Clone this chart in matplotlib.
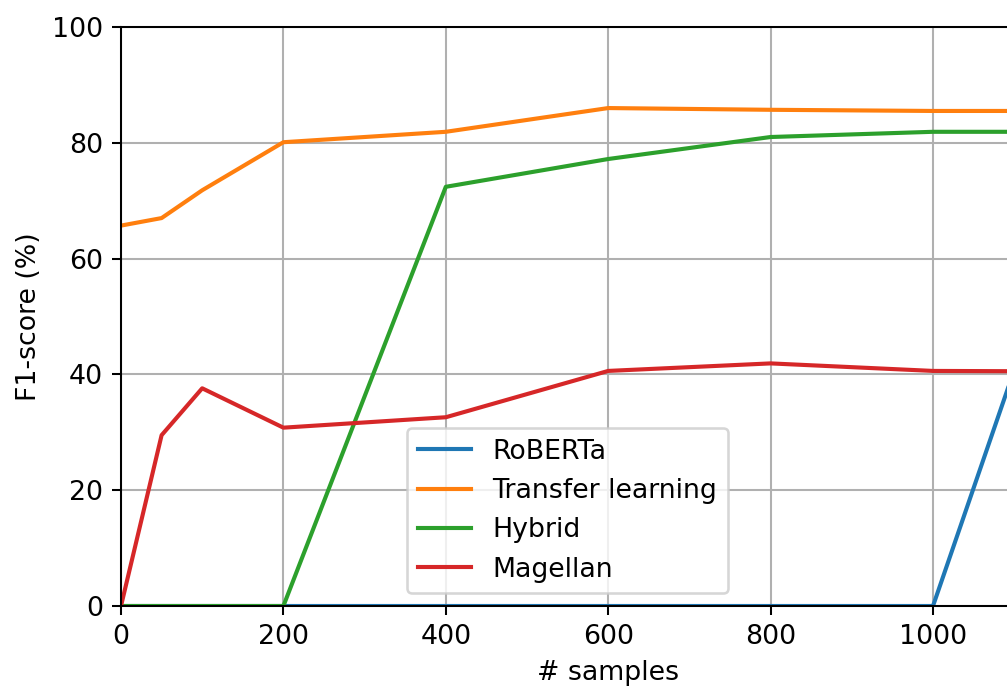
import matplotlib
matplotlib.use("Agg")
import matplotlib.pyplot as plt

# Number of labelled training samples
samples = [0, 50, 100, 200, 400, 600, 800, 1000, 1200]

# F1-scores (%) per approach
roberta = [0.0, 0.0, 0.0, 0.0, 0.0, 0.0, 0.0, 0.0, 81.5]
transfer_learning = [65.7, 67.0, 71.8, 80.1, 81.9, 86.0, 85.7, 85.5, 85.5]
hybrid = [0.0, 0.0, 0.0, 0.0, 72.4, 77.2, 81.0, 81.9, 81.9]
magellan = [0.0, 29.5, 37.6, 30.8, 32.6, 40.6, 41.9, 40.6, 40.5]

x_ticks = [0, 200, 400, 600, 800, 1000]
y_ticks = [0, 20, 40, 60, 80, 100]

plt.rcParams["font.size"] = 10.4

W, H, DPI = 1007, 691, 185
fig = plt.figure(figsize=(W / DPI, H / DPI), dpi=DPI)

# axes run past the right edge of the figure
left, bottom, top = 121, 606, 27
px_per_unit = (933 - 121) / 1000.0
ax_w = 1200 * px_per_unit
ax = fig.add_axes([left / W, (H - bottom) / H, ax_w / W, (bottom - top) / H])

lw = 1.6
ax.plot(samples, roberta, label="RoBERTa", color="#1f77b4", lw=lw)
ax.plot(samples, transfer_learning, label="Transfer learning", color="#ff7f0e", lw=lw)
ax.plot(samples, hybrid, label="Hybrid", color="#2ca02c", lw=lw)
ax.plot(samples, magellan, label="Magellan", color="#d62728", lw=lw)

ax.set_xlim(0, 1200)
ax.set_ylim(0, 100)
ax.set_xticks(x_ticks)
ax.set_yticks(y_ticks)
ax.grid(True)
ax.set_xlabel("# samples")
ax.set_ylabel("F1-score (%)")

ax.legend(loc="upper left", bbox_to_anchor=(407 / W, 1 - 428 / H),
          bbox_transform=fig.transFigure, borderaxespad=0)

fig.savefig("out.png", dpi=DPI)
